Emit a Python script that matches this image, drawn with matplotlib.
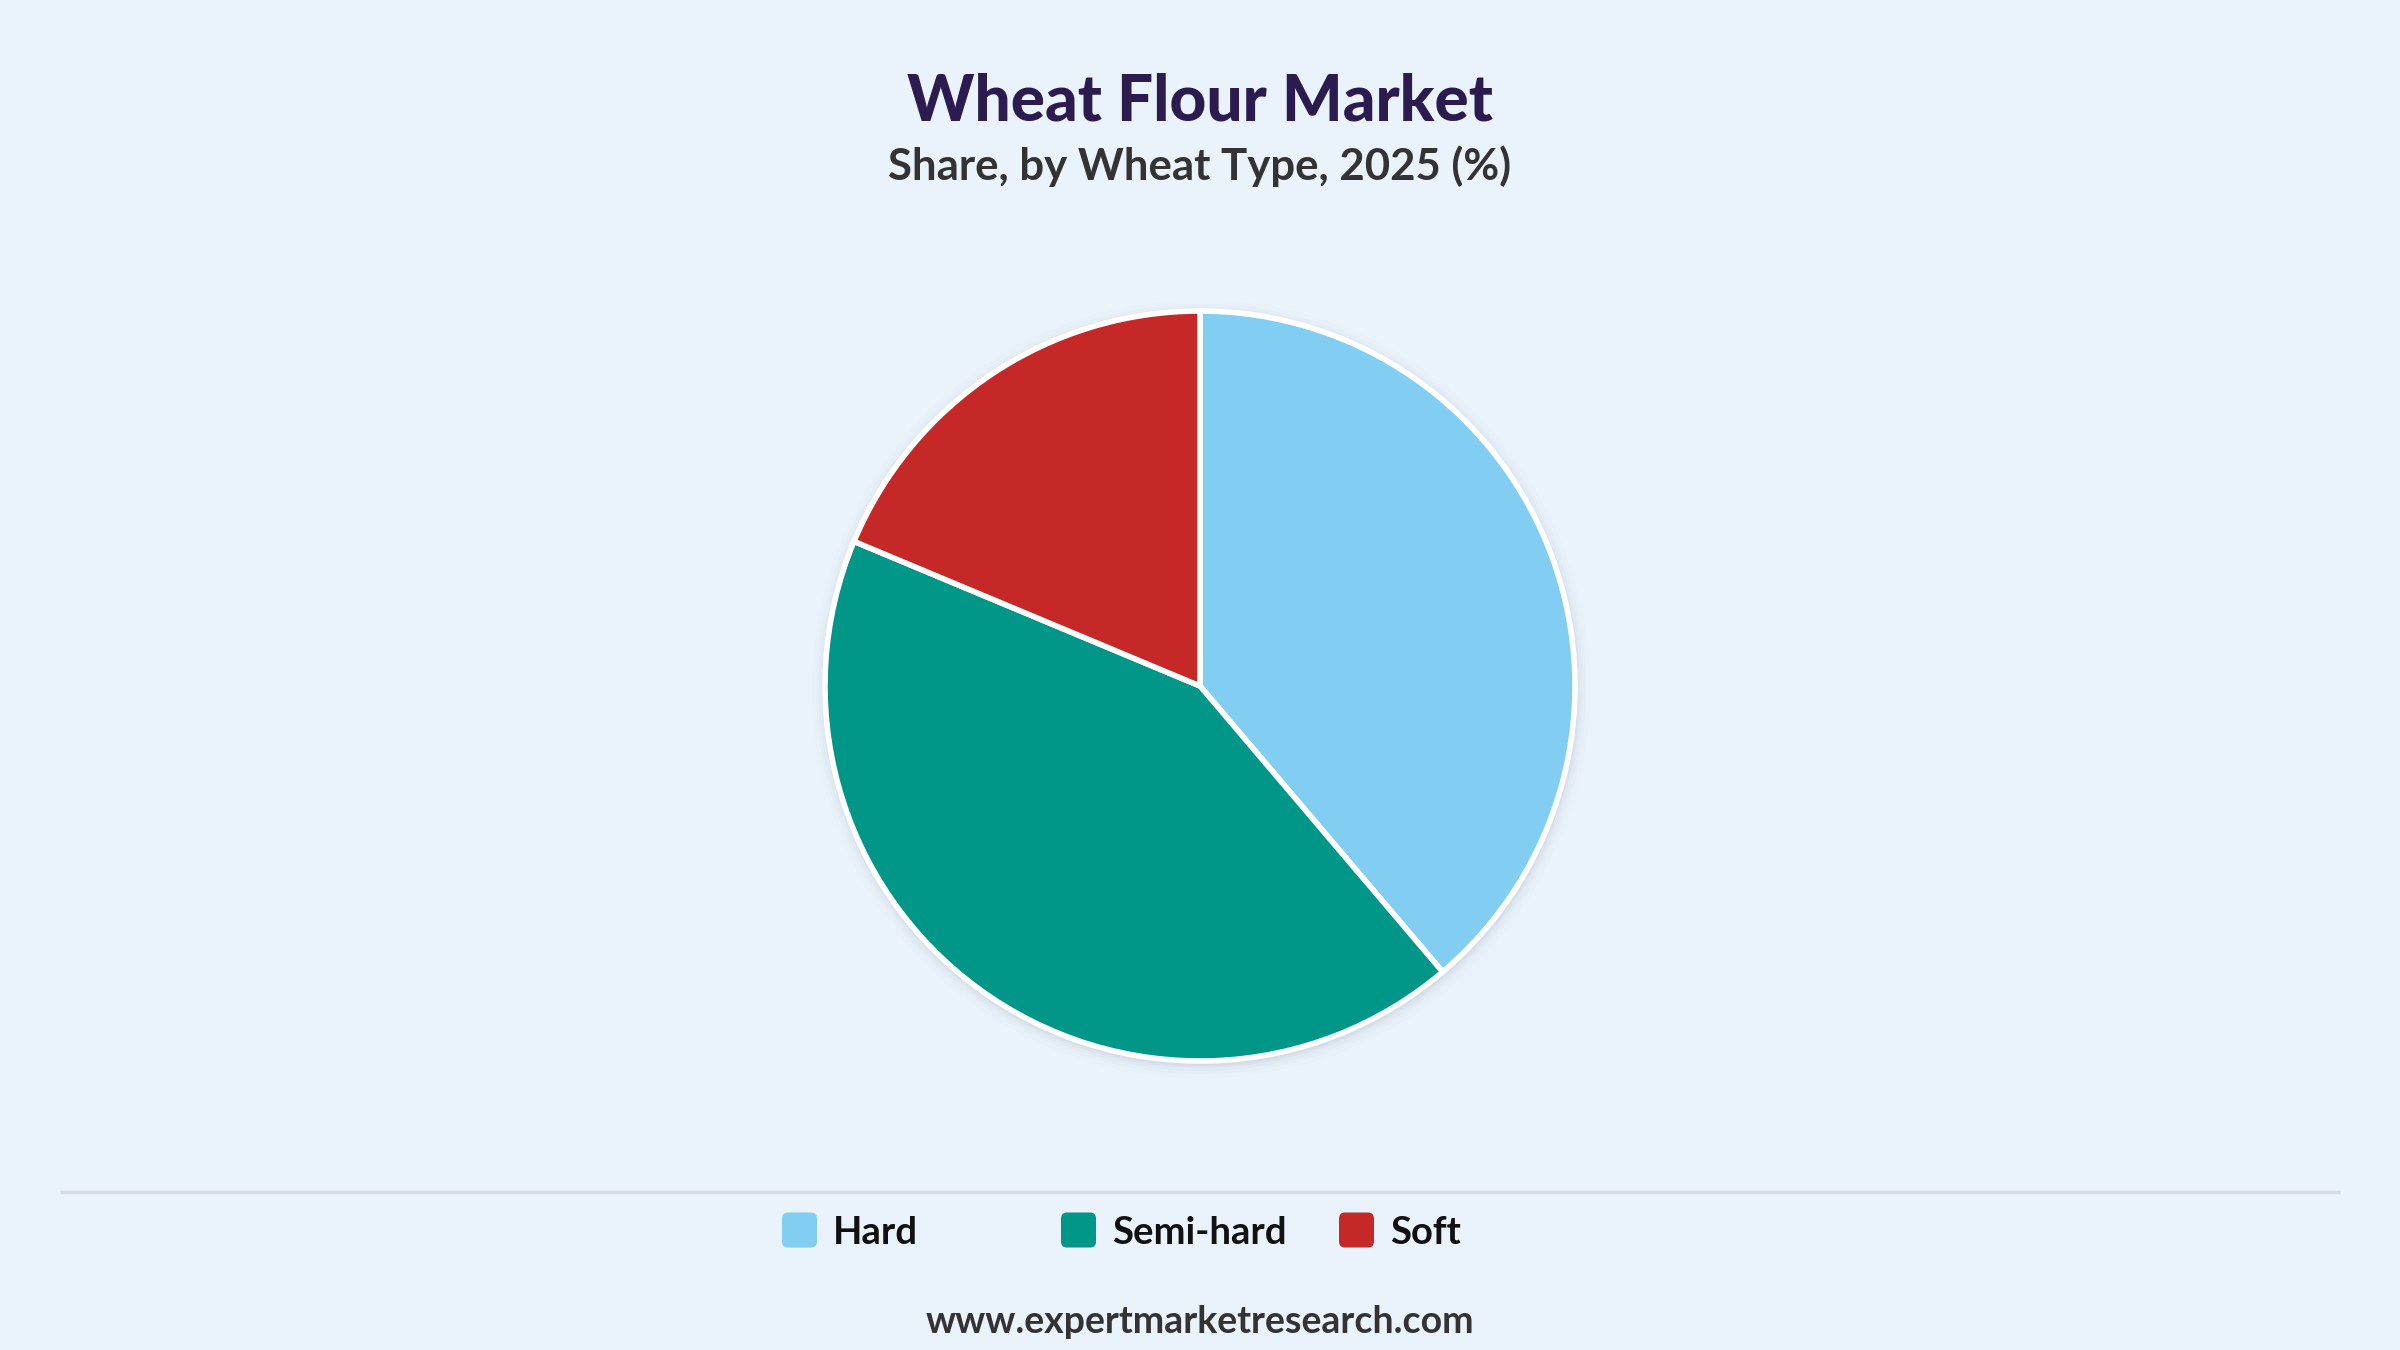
import matplotlib
matplotlib.use("Agg")
import matplotlib.pyplot as plt
from matplotlib.patches import FancyBboxPatch, Circle

categories = ["Hard", "Semi-hard", "Soft"]
shares = [38.8, 42.5, 18.7]
colors = ["#81CEF2", "#009688", "#C62828"]

title = "Wheat Flour Market"
subtitle = "Share, by Wheat Type, 2025 (%)"
footer = "www.expertmarketresearch.com"

bg = "#EAF2FB"
W, H = 2400, 1350
fig = plt.figure(figsize=(24, 13.5), dpi=100, facecolor=bg)
ax = fig.add_axes([0, 0, 1, 1])
ax.set_xlim(0, W)
ax.set_ylim(0, H)
ax.set_aspect("equal")
ax.axis("off")
ax.set_facecolor(bg)

cx, cy, r = 1200, H - 686, 375

# soft shadow
for k, a in [(14, 0.015), (10, 0.025), (7, 0.035), (4, 0.05), (2, 0.06)]:
    ax.add_patch(Circle((cx + 1, cy - 3), r + k, facecolor="#7A8699", edgecolor="none", alpha=a, zorder=1))

ax.pie(shares, colors=colors, startangle=90, counterclock=False, center=(cx, cy), radius=r,
       wedgeprops=dict(edgecolor="white", linewidth=4), frame=True)
ax.set_xlim(0, W)
ax.set_ylim(0, H)
ax.axis("off")

fam = ["Lato", "DejaVu Sans"]
ax.text(W / 2, H - 102, title, ha="center", va="center", fontsize=46, fontweight="black",
        color="#2B1B4F", family=fam)
ax.text(W / 2, H - 166, subtitle, ha="center", va="center", fontsize=31.5, fontweight="bold",
        color="#333333", family=fam)

# separator
ax.plot([60, 2340], [H - 1192, H - 1192], color="#D8DCE2", linewidth=2.5, solid_capstyle="butt")

# legend
leg_x = [782, 1061, 1339]
ly = H - 1230
sq = 35
for x, c, lab in zip(leg_x, colors, categories):
    ax.add_patch(FancyBboxPatch((x + 4, ly - sq / 2 + 4), sq - 8, sq - 8,
                                boxstyle="round,pad=4,rounding_size=6",
                                facecolor=c, edgecolor="none"))
    ax.text(x + sq + 16, ly - 3, lab, ha="left", va="center", fontsize=27.5, fontweight="bold",
            color="#111111", family=fam)

ax.text(W / 2, H - 1322, footer, ha="center", va="center", fontsize=27, fontweight="bold",
        color="#333333", family=fam)

fig.savefig("out.png", dpi=100, facecolor=bg)
